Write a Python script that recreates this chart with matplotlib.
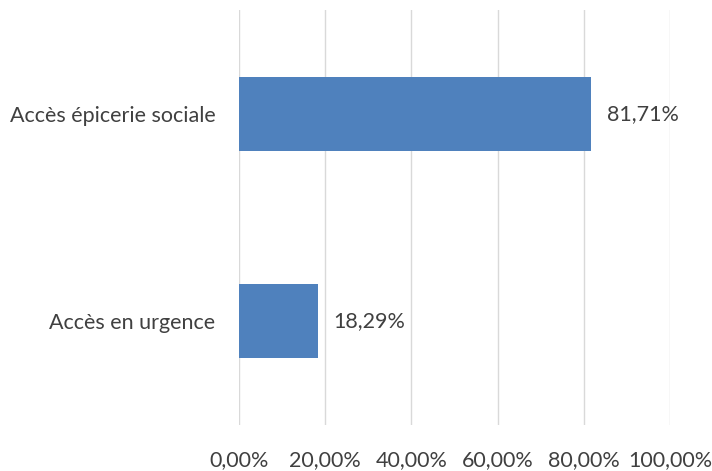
import matplotlib
matplotlib.use("Agg")
import matplotlib.pyplot as plt

categories = ["Accès en urgence", "Accès épicerie sociale"]
values = [18.29, 81.71]
xticks = [0, 20, 40, 60, 80, 100]
xtick_labels = ["0,00%", "20,00%", "40,00%", "60,00%", "80,00%", "100,00%"]
bar_labels = ["18,29%", "81,71%"]

plt.rcParams['font.family'] = ['Lato', 'DejaVu Sans']
fig = plt.figure(figsize=(7.12, 4.71), dpi=100)
ax = fig.add_axes([239/712, 1-425/471, (670-239)/712, (425-10)/471])

ypos = list(range(len(categories)))
ax.barh(ypos, values, height=0.355, color="#4F81BD", zorder=3)
for y, v, lab in zip(ypos, values, bar_labels):
    ax.text(v + 3.6, y, lab, va="center", ha="left", fontsize=15.5, color="#404040")

ax.set_xlim(0, 100)
ax.set_ylim(-0.5, 1.5)
ax.set_xticks(xticks)
ax.set_xticklabels(xtick_labels, fontsize=15.5, color="#404040")
ax.set_yticks(ypos)
ax.set_yticklabels(categories, fontsize=15.5, color="#404040")
ax.tick_params(axis="x", length=0, pad=18)
ax.tick_params(axis="y", length=0, pad=17)
ax.grid(axis="x", color="#D9D9D9", linewidth=1, zorder=0)
for s in ax.spines.values():
    s.set_visible(False)

fig.savefig("out.png", dpi=100)
